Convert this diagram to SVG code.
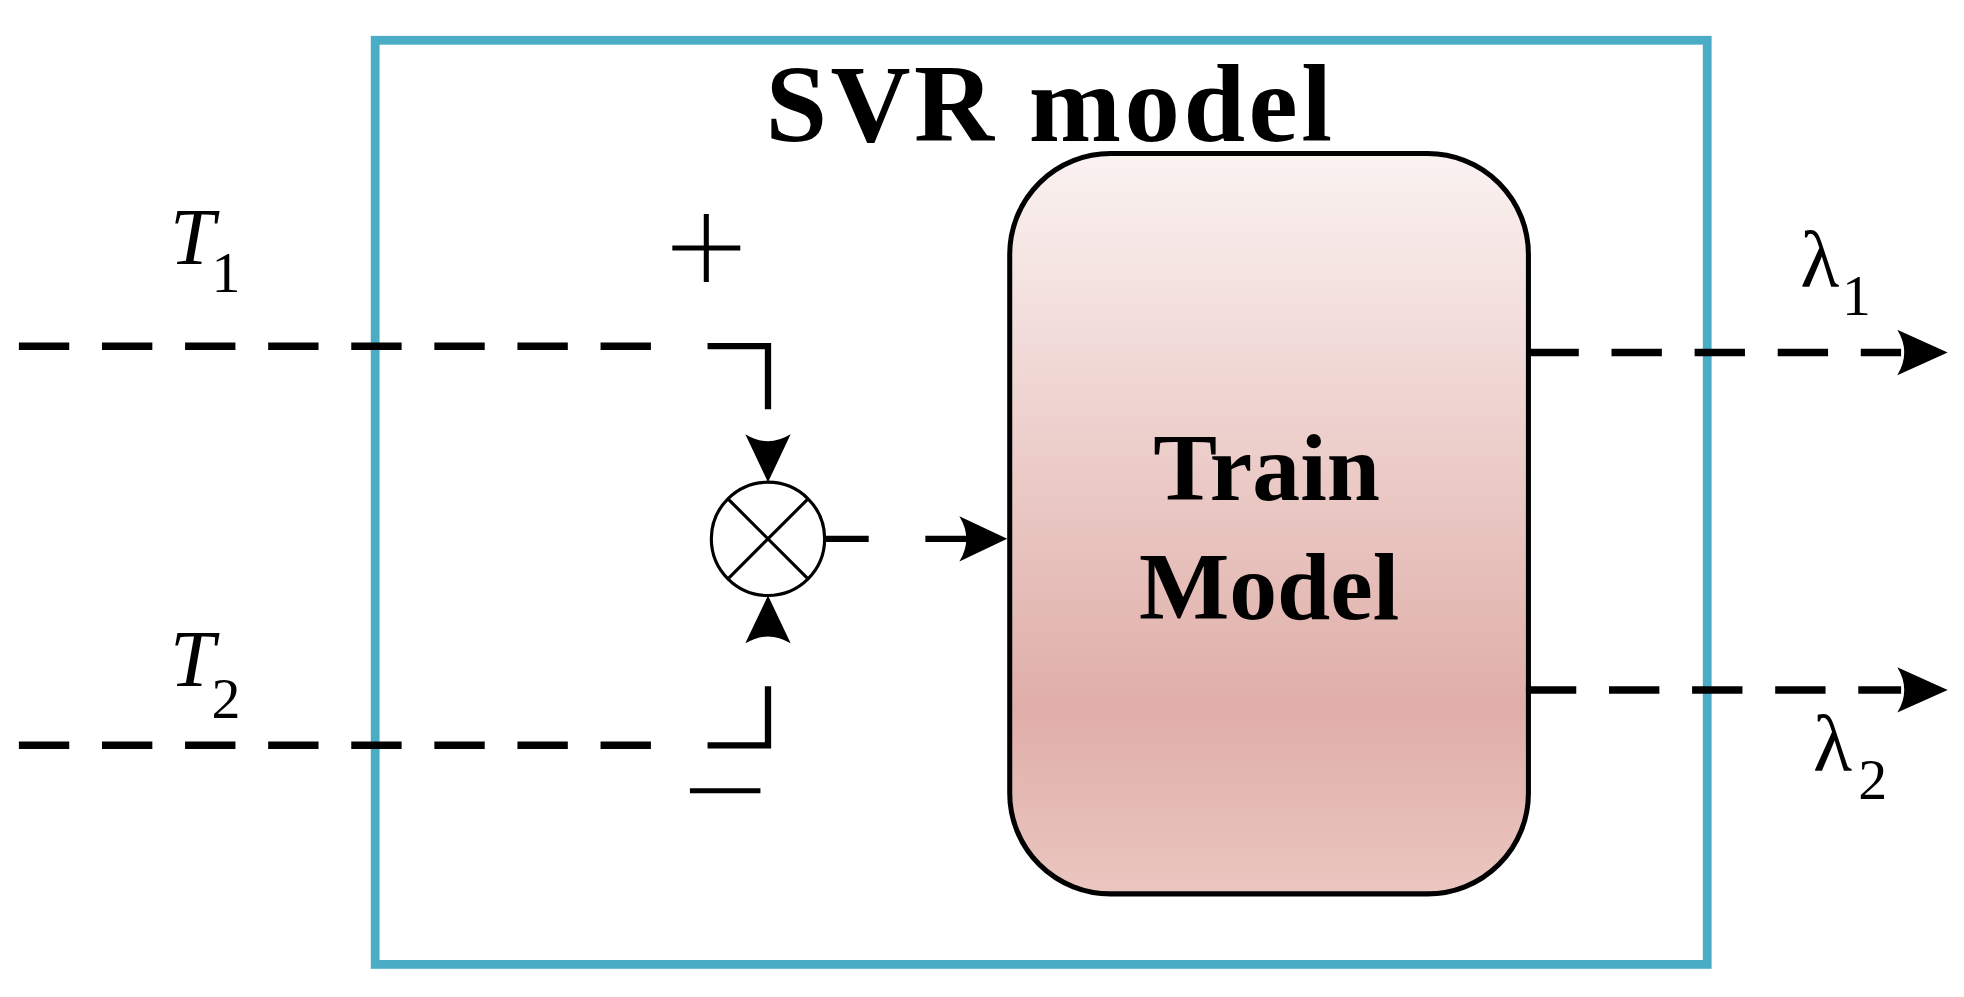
<svg xmlns="http://www.w3.org/2000/svg" width="1964" height="997" viewBox="0 0 1964 997">
<defs>
<linearGradient id="g" x1="0" y1="0" x2="0" y2="1">
<stop offset="0" stop-color="#faf2f1"/><stop offset="0.75" stop-color="#e0aea8"/><stop offset="1" stop-color="#ebc6c0"/>
</linearGradient>
<style>
.d{fill:none;stroke:#000;stroke-width:6;stroke-dasharray:40 26}
.s{fill:none;stroke:#000;stroke-width:5}
.t{font-family:"Liberation Serif",serif;fill:#000}
.b{font-weight:bold}
.i{font-style:italic}
</style>
</defs>
<rect width="1964" height="997" fill="#fff"/>
<g transform="scale(1.259)">
<g id="svr"><rect x="298" y="32" width="1058" height="734" fill="none" stroke="#4bacc6" stroke-width="7"/>
<text class="t b" x="833" y="112" font-size="88" text-anchor="middle" textLength="450">SVR model</text></g>
<g id="train"><rect x="802" y="122" width="412" height="588" rx="80" fill="url(#g)" stroke="#000" stroke-width="4"/>
<text class="t b" x="1006" y="397" font-size="76" text-anchor="middle">Train</text>
<text class="t b" x="1008" y="492" font-size="76" text-anchor="middle">Model</text></g>
<g id="sum"><circle cx="610" cy="428" r="45" fill="#fff" stroke="#000" stroke-width="2.5"/>
<path d="M578,396 L642,460 M642,396 L578,460" stroke="#000" stroke-width="2.5"/></g>
<g id="connectors">
<path class="d" d="M15,275 H530"/>
<path class="s" d="M562,275 H610 V325" stroke-width="6"/>
<path d="M610,383 L592,345 Q610,356 628,345 Z"/>
<path class="d" d="M15,592 H530"/>
<path class="s" d="M562,592 H610 V545" stroke-width="6"/>
<path d="M610,473 L592,511 Q610,500 628,511 Z"/>
<path class="s" d="M655,428 H690 M735,428 H770"/>
<path d="M800,428 L762,410 Q773,428 762,446 Z"/>
<path class="d" d="M1214,280 H1510"/>
<path d="M1547,280 L1507,262 Q1518,280 1507,298 Z"/>
<path class="d" d="M1212,548 H1510"/>
<path d="M1547,548 L1507,530 Q1518,548 1507,566 Z"/>
</g>
<g id="labels">
<text class="t i" x="135" y="210" font-size="64">T</text><text class="t" x="168" y="232" font-size="46">1</text>
<text class="t i" x="135" y="545" font-size="64">T</text><text class="t" x="168" y="570" font-size="46">2</text>
<path d="M534,197 H588 M561,170 V224" stroke="#000" stroke-width="4"/>
<path d="M548,628 H604" stroke="#000" stroke-width="4"/>
<text class="t" x="1430" y="228" font-size="64">λ</text><text class="t" x="1463" y="250" font-size="46">1</text>
<text class="t" x="1440" y="612" font-size="64">λ</text><text class="t" x="1476" y="635" font-size="46">2</text>
</g>
</g>
</svg>
